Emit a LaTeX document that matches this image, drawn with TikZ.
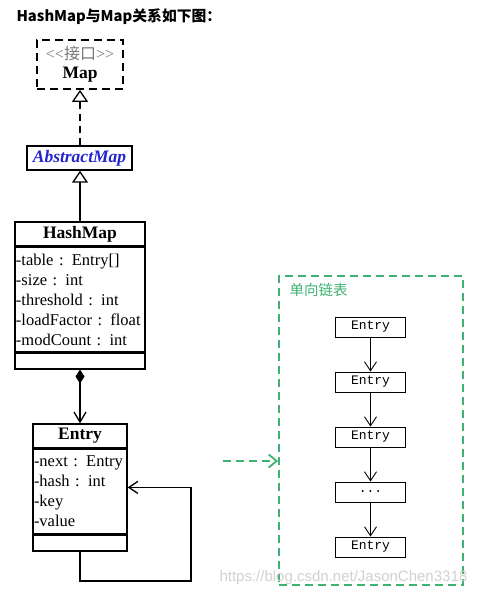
\documentclass[tikz,border=0pt]{standalone}
\usepackage{fontspec}
\setmainfont{Liberation Serif}
\setmonofont{Liberation Mono}
\newfontfamily\cjk{Noto Sans CJK SC}
\newfontfamily\wmfont{Liberation Sans}
\usetikzlibrary{arrows.meta}

\definecolor{listgreen}{RGB}{62,178,112}
\definecolor{absblue}{RGB}{36,36,205}
\definecolor{ifacegray}{RGB}{120,120,120}

\tikzset{
  classbox/.style={draw,line width=1.4pt,minimum width=#1,inner sep=0pt},
  classname/.style={font=\fontsize{17.5}{20}\selectfont\bfseries},
  attrlist/.style={align=left,text width=#1,inner xsep=1pt,
    font=\fontsize{16.5}{20}\selectfont},
  listnode/.style={draw,line width=.9pt,minimum width=70pt,minimum height=20pt,
    inner sep=0pt,font=\ttfamily\fontsize{13}{14}\selectfont},
  inherit/.style={line width=1.3pt,-{Triangle[open,length=12pt,width=16pt]}},
  barb/.style={-{Straight Barb[length=9pt,width=12pt]}}
}

\begin{document}
\begin{tikzpicture}[x=1pt,y=-1pt,line join=miter]
    \useasboundingbox[fill=white] (0,0) rectangle (489,596);

    \node[anchor=west,font=\cjk\bfseries\fontsize{14.8}{16}\selectfont]
      (title) at (13,17) {HashMap与Map关系如下图：};

    % interface and abstract class
    \node[draw,line width=1.8pt,dash pattern=on 8pt off 5pt,minimum width=86pt,
      minimum height=49pt,align=center,inner sep=0pt]
      (map) at (80,64.5) {{\color{ifacegray}\fontsize{16}{20}\selectfont
        <{}<{\cjk 接口}>{}>}\\[5pt]{\fontsize{17.5}{20}\selectfont\bfseries Map}};
    \node[classbox=105pt,minimum height=24pt,text=absblue,
      font=\fontsize{17.5}{20}\selectfont\bfseries\itshape]
      (abs) at (79.5,158) {AbstractMap};
    \draw[inherit,dash pattern=on 7pt off 5pt] (abs.north -| map.south) -- (map.south);

    % HashMap class
    \node[classbox=130pt,minimum height=24pt,classname] (hm) at (80,234) {HashMap};
    \node[classbox=130pt,minimum height=104pt,anchor=north,attrlist=128pt]
      (hmattr) at (hm.south) {-table : Entry[]\\-size : int\\-threshold : int\\
      -loadFactor : float\\-modCount : int};
    \node[classbox=130pt,minimum height=16pt,anchor=north] (hmops) at (hmattr.south) {};
    \draw[inherit] (hm.north) -- (hm.north |- abs.south);

    % Entry class
    \node[classbox=94pt,minimum height=24pt,classname] (ent) at (80,436) {Entry};
    \node[classbox=94pt,minimum height=84pt,anchor=north,attrlist=92pt]
      (entattr) at (ent.south) {-next : Entry\\-hash : int\\-key\\-value};
    \node[classbox=94pt,minimum height=16pt,anchor=north] (entops) at (entattr.south) {};
    \draw[line width=1.3pt,{Diamond[length=14pt,width=9pt]}-{Straight Barb[length=10pt,width=12pt]}]
      (hmops.south) -- (ent.north);

    % next : Entry points back to Entry
    \coordinate (loopcorner) at (191,581);
    \draw[line width=1.3pt,barb] (entops.south) |- (loopcorner)
      |- ([yshift=4pt]entattr.east);

    % the singly linked list
    \node[draw=listgreen,line width=1.8pt,dash pattern=on 8pt off 5pt,
      minimum width=184pt,minimum height=309pt] (list) at (371,430.5) {};
    \node[anchor=west,text=listgreen,font=\cjk\fontsize{14.5}{16}\selectfont]
      (listlabel) at (286,290) {单向链表};
    \foreach \i/\t in {1/Entry,2/Entry,3/Entry,4/{...},5/Entry}
      \node[listnode] (e\i) at (370.5,272+55*\i) {\t};
    \foreach \i [count=\j from 2] in {1,...,4}
      \draw[line width=.9pt,barb] (e\i) -- (e\j);

    \coordinate (linkfrom) at (223,461);
    \draw[draw=listgreen,line width=1.8pt,dash pattern=on 8pt off 5pt,
      -{Straight Barb[length=8pt,width=13pt]}] (linkfrom) -- (linkfrom -| list.west);

    \node[anchor=west,text=black!18,font=\wmfont\fontsize{15}{17}\selectfont]
      (mark) at (216,578) {https://blog.csdn.net/JasonChen3318};
  \end{tikzpicture}
\end{document}
